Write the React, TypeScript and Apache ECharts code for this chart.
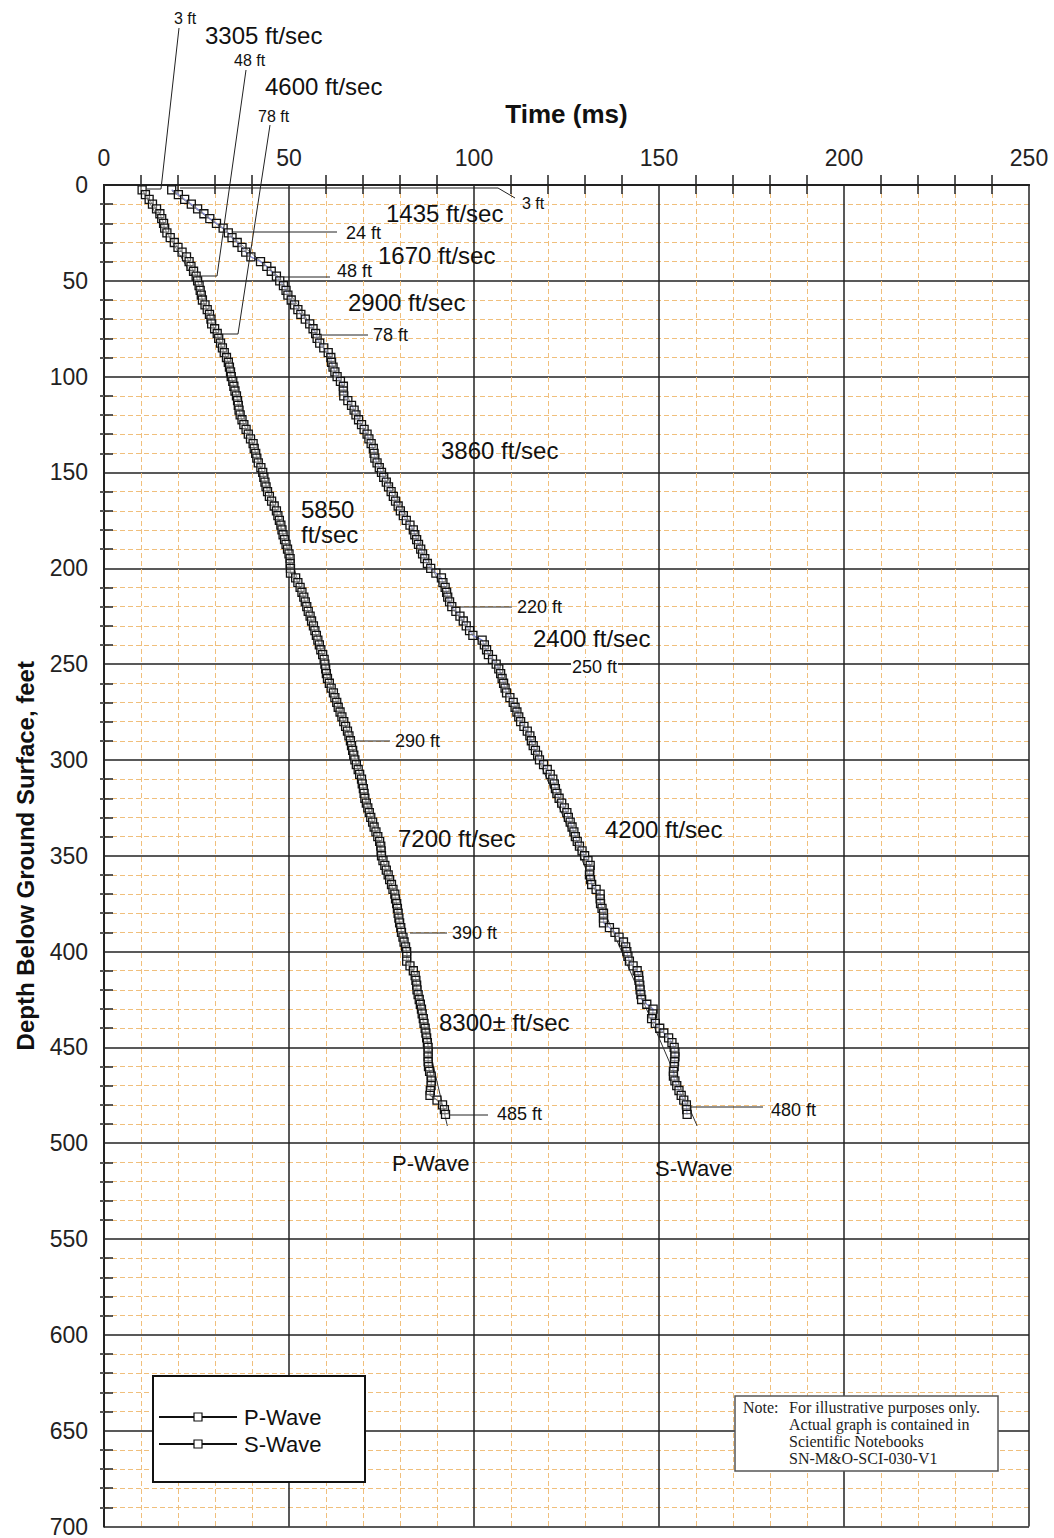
import React, { useEffect, useRef } from "react";
import * as echarts from "echarts";

// Depth below ground surface (ft) of each measurement
const depths = [
  2.5, 5, 7.5, 10, 12.5, 15, 17.5, 20, 22.5, 25, 27.5, 30, 32.5, 35, 37.5, 40, 42.5, 45, 47.5, 50,
  52.5, 55, 57.5, 60, 62.5, 65, 67.5, 70, 72.5, 75, 77.5, 80, 82.5, 85, 87.5, 90, 92.5, 95, 97.5, 100,
  102.5, 105, 107.5, 110, 112.5, 115, 117.5, 120, 122.5, 125, 127.5, 130, 132.5, 135, 137.5, 140, 142.5, 145, 147.5, 150,
  152.5, 155, 157.5, 160, 162.5, 165, 167.5, 170, 172.5, 175, 177.5, 180, 182.5, 185, 187.5, 190, 192.5, 195, 197.5, 200,
  202.5, 205, 207.5, 210, 212.5, 215, 217.5, 220, 222.5, 225, 227.5, 230, 232.5, 235, 237.5, 240, 242.5, 245, 247.5, 250,
  252.5, 255, 257.5, 260, 262.5, 265, 267.5, 270, 272.5, 275, 277.5, 280, 282.5, 285, 287.5, 290, 292.5, 295, 297.5, 300,
  302.5, 305, 307.5, 310, 312.5, 315, 317.5, 320, 322.5, 325, 327.5, 330, 332.5, 335, 337.5, 340, 342.5, 345, 347.5, 350,
  352.5, 355, 357.5, 360, 362.5, 365, 367.5, 370, 372.5, 375, 377.5, 380, 382.5, 385, 387.5, 390, 392.5, 395, 397.5, 400,
  402.5, 405, 407.5, 410, 412.5, 415, 417.5, 420, 422.5, 425, 427.5, 430, 432.5, 435, 437.5, 440, 442.5, 445, 447.5, 450,
  452.5, 455, 457.5, 460, 462.5, 465, 467.5, 470, 472.5, 475, 477.5, 480, 482.5, 485,
];

// P-wave travel time (ms)
const pTimes = [
  10.3, 11.2, 12.2, 13.1, 14.2, 15.1, 15.6, 16.1, 16.4, 17.0, 17.9, 19.0, 20.0, 21.1, 22.3, 23.0, 23.5, 24.2, 24.9, 25.3,
  25.7, 26.0, 26.3, 26.6, 27.3, 27.9, 28.5, 28.9, 29.1, 29.9, 30.6, 31.0, 31.5, 32.0, 32.5, 33.1, 33.6, 33.9, 34.2, 34.4,
  34.8, 35.1, 35.4, 35.8, 36.1, 36.3, 36.5, 36.8, 37.3, 37.8, 38.4, 39.0, 39.6, 40.3, 40.6, 41.0, 41.3, 41.7, 42.4, 42.9,
  43.2, 43.5, 43.8, 44.2, 44.7, 45.3, 46.0, 46.6, 47.0, 47.4, 47.8, 48.1, 48.4, 48.8, 49.2, 49.6, 50.0, 50.3, 50.3, 50.4,
  50.4, 51.8, 52.4, 53.0, 53.5, 54.0, 54.4, 54.8, 55.2, 55.7, 56.1, 56.6, 57.0, 57.4, 57.8, 58.2, 58.6, 59.1, 59.5, 59.7,
  59.9, 60.1, 60.4, 60.9, 61.4, 62.0, 62.4, 62.9, 63.3, 63.8, 64.3, 64.8, 65.3, 65.8, 66.2, 66.6, 66.9, 67.2, 67.5, 67.8,
  68.2, 68.7, 69.1, 69.6, 69.8, 70.1, 70.3, 70.5, 70.9, 71.3, 71.7, 72.1, 72.6, 73.0, 73.5, 74.0, 74.5, 74.8, 74.9, 75.0,
  75.4, 75.9, 76.3, 76.8, 77.2, 77.7, 78.1, 78.6, 78.8, 79.1, 79.3, 79.5, 79.7, 79.9, 80.2, 80.4, 80.8, 81.1, 81.5, 81.8,
  81.8, 81.8, 82.7, 83.6, 84.1, 84.3, 84.5, 84.6, 84.9, 85.2, 85.5, 85.8, 86.0, 86.3, 86.5, 86.8, 87.0, 87.2, 87.4, 87.6,
  87.6, 87.6, 87.6, 87.7, 88.0, 88.4, 88.5, 88.4, 88.2, 88.1, 90.0, 91.5, 92.0, 92.3,
];

// S-wave travel time (ms)
const sTimes = [
  18.3, 20.1, 21.8, 23.6, 25.3, 27.0, 28.6, 30.4, 32.2, 33.6, 34.6, 36.0, 37.3, 38.3, 39.7, 42.3, 44.0, 45.2, 46.6, 47.5,
  48.5, 49.2, 49.7, 50.6, 51.5, 52.4, 53.2, 54.4, 55.6, 56.5, 57.2, 57.6, 58.3, 59.4, 60.6, 61.3, 61.5, 61.9, 62.4, 63.0,
  63.9, 64.7, 64.7, 64.8, 65.9, 66.9, 67.6, 68.1, 68.8, 69.6, 70.3, 71.1, 71.6, 72.2, 72.8, 73.0, 73.2, 73.8, 74.4, 75.0,
  75.6, 76.3, 76.9, 77.6, 78.2, 78.8, 79.5, 80.1, 80.9, 81.7, 82.7, 83.6, 84.0, 84.5, 85.0, 85.6, 86.1, 86.7, 87.4, 88.3,
  89.7, 91.2, 91.6, 92.2, 92.6, 92.9, 93.4, 94.0, 95.1, 96.2, 97.1, 97.9, 98.8, 99.7, 102.2, 102.8, 103.4, 103.9, 105.0, 106.0,
  106.7, 107.2, 107.6, 108.0, 108.4, 108.8, 109.7, 110.6, 111.1, 111.6, 112.1, 112.6, 113.5, 114.4, 115.1, 115.5, 116.0, 116.6, 117.2, 117.7,
  118.8, 119.8, 120.6, 121.3, 121.7, 122.0, 122.4, 123.0, 123.7, 124.4, 125.1, 125.5, 126.0, 126.5, 127.0, 127.4, 127.9, 128.5, 129.2, 129.9,
  130.8, 131.4, 131.3, 131.2, 131.5, 131.8, 133.0, 134.1, 134.1, 134.2, 134.6, 135.0, 135.0, 135.0, 136.6, 138.1, 139.2, 140.4, 141.0, 141.3,
  141.6, 142.0, 143.0, 144.1, 144.5, 144.6, 144.8, 144.9, 145.1, 145.3, 146.7, 148.4, 148.3, 148.0, 149.0, 150.2, 151.3, 152.6, 153.5, 154.1,
  154.3, 154.3, 154.2, 154.1, 153.9, 153.9, 154.3, 154.8, 155.4, 156.0, 156.7, 157.4, 157.5, 157.6,
];

// Interval-velocity fit lines (break depths ft / times ms)
const pFitDepths = [3, 48, 78, 290, 390, 491];
const pFitTimes = [10.4, 24.0, 30.5, 66.7, 80.6, 92.8];
const sFitDepths = [3, 24, 48, 78, 220, 250, 491];
const sFitTimes = [18.3, 32.9, 47.3, 57.6, 93.8, 106.3, 160.3];

const seriesNames = ["P-Wave", "S-Wave"];

// Annotation texts
const labels = [
  { t: "3 ft", x: 174, y: 18, s: 16 },
  { t: "3305 ft/sec", x: 205, y: 35, s: 24 },
  { t: "48 ft", x: 234, y: 60, s: 16 },
  { t: "4600 ft/sec", x: 265, y: 86, s: 24 },
  { t: "78 ft", x: 258, y: 116, s: 16 },
  { t: "3 ft", x: 522, y: 203, s: 16 },
  { t: "1435 ft/sec", x: 386, y: 213, s: 24 },
  { t: "24 ft", x: 346, y: 233, s: 18 },
  { t: "1670 ft/sec", x: 378, y: 255, s: 24 },
  { t: "48 ft", x: 337, y: 271, s: 18 },
  { t: "2900 ft/sec", x: 348, y: 302, s: 24 },
  { t: "78 ft", x: 373, y: 335, s: 18 },
  { t: "3860 ft/sec", x: 441, y: 450, s: 24 },
  { t: "5850", x: 301, y: 509, s: 24 },
  { t: "ft/sec", x: 301, y: 534, s: 24 },
  { t: "220 ft", x: 517, y: 607, s: 18 },
  { t: "2400 ft/sec", x: 533, y: 638, s: 24 },
  { t: "250 ft", x: 571, y: 667, s: 18, bg: true },
  { t: "290 ft", x: 395, y: 741, s: 18 },
  { t: "7200 ft/sec", x: 398, y: 838, s: 24 },
  { t: "4200 ft/sec", x: 605, y: 829, s: 24 },
  { t: "390 ft", x: 452, y: 933, s: 18 },
  { t: "8300\u00b1 ft/sec", x: 439, y: 1022, s: 24 },
  { t: "485 ft", x: 497, y: 1114, s: 18 },
  { t: "480 ft", x: 771, y: 1110, s: 18 },
  { t: "P-Wave", x: 392, y: 1163, s: 22 },
  { t: "S-Wave", x: 655, y: 1168, s: 22 },
];

const leaders = [
  [[179, 28], [161, 189], [147, 189]],
  [[246, 70], [217, 276], [197, 276]],
  [[270, 125], [238, 334], [218, 334]],
  [[180, 188], [498, 188], [515, 198]],
  [[232, 232], [337, 232]],
  [[284, 277], [330, 277]],
  [[322, 335], [368, 335]],
  [[452, 607], [512, 607]],
  [[497, 664], [640, 664]],
  [[356, 741], [390, 741]],
  [[410, 933], [447, 933]],
  [[449, 1115], [488, 1115]],
  [[690, 1107], [763, 1107]],
];

const noteLines = [
  { t: "Note:", x: 743, y: 1407 },
  { t: "For illustrative purposes only.", x: 789, y: 1407 },
  { t: "Actual graph is contained in", x: 789, y: 1424 },
  { t: "Scientific Notebooks", x: 789, y: 1441 },
  { t: "SN-M&O-SCI-030-V1", x: 789, y: 1458 },
];

const SANS = "'Liberation Sans', Arial, sans-serif";
const NARROW = "'Liberation Sans Narrow', 'Arial Narrow', 'Liberation Sans', sans-serif";
const MINOR = "#f0bf7c";

export default function App() {
  const ref = useRef<HTMLDivElement>(null);

  useEffect(() => {
    if (!ref.current) return;
    const chart = echarts.init(ref.current, undefined, { renderer: "svg" });

    const pData = depths.map((d, i) => [pTimes[i], d]);
    const sData = depths.map((d, i) => [sTimes[i], d]);
    const pFit = pFitDepths.map((d, i) => [pFitTimes[i], d]);
    const sFit = sFitDepths.map((d, i) => [sFitTimes[i], d]);

    const xBase = {
      type: "value" as const,
      min: 0,
      max: 250,
      interval: 50,
      gridIndex: 0,
    };
    const yBase = {
      type: "value" as const,
      min: 0,
      max: 700,
      interval: 50,
      inverse: true,
      gridIndex: 0,
    };

    const graphics: any[] = [];
    leaders.forEach((pts) =>
      graphics.push({
        type: "polyline",
        shape: { points: pts },
        style: { stroke: "#222", lineWidth: 1, fill: null },
        z: 5,
        silent: true,
      })
    );
    labels.forEach((l: any) =>
      graphics.push({
        type: "text",
        x: l.x,
        y: l.y,
        style: {
          text: l.t,
          fontSize: l.s,
          fontFamily: SANS,
          fill: "#111",
          verticalAlign: "middle",
          align: "left",
          backgroundColor: l.bg ? "#fff" : undefined,
          padding: l.bg ? [0, 1] : undefined,
        },
        z: 6,
        silent: true,
      })
    );
    // legend box
    graphics.push({
      type: "rect",
      shape: { x: 153, y: 1376, width: 212, height: 106 },
      style: { fill: "#fff", stroke: "#111", lineWidth: 2 },
      z: 3,
      silent: true,
    });
    // note box
    graphics.push({
      type: "rect",
      shape: { x: 735, y: 1396, width: 263, height: 75 },
      style: { fill: "#fff", stroke: "#555", lineWidth: 1.5 },
      z: 3,
      silent: true,
    });
    noteLines.forEach((l) =>
      graphics.push({
        type: "text",
        x: l.x,
        y: l.y,
        style: {
          text: l.t,
          fontSize: 16,
          fontFamily: "'Liberation Serif', 'Times New Roman', serif",
          fill: "#222",
          verticalAlign: "middle",
          align: "left",
        },
        z: 6,
        silent: true,
      })
    );

    chart.setOption({
      animation: false,
      backgroundColor: "#fff",
      grid: { left: 104, top: 185, width: 925, height: 1343, show: false },
      legend: {
        left: 158,
        top: 1406,
        orient: "vertical",
        padding: 0,
        itemWidth: 78,
        itemHeight: 10,
        itemGap: 5,
        z: 10,
        textStyle: { fontSize: 22, fontFamily: SANS, color: "#111", padding: [0, 0, 0, 2] },
        data: [
          { name: seriesNames[0], itemStyle: { color: "#fff", borderColor: "#111", borderWidth: 1.2 }, lineStyle: { color: "#111", width: 2 } },
          { name: seriesNames[1], itemStyle: { color: "#fff", borderColor: "#111", borderWidth: 1.2 }, lineStyle: { color: "#111", width: 2 } },
        ],
      },
      xAxis: [
        {
          ...xBase,
          position: "top",
          name: "Time (ms)",
          nameLocation: "middle",
          nameGap: 58,
          nameTextStyle: { fontSize: 26, fontWeight: "bold", fontFamily: SANS, color: "#111" },
          axisLine: { show: true, lineStyle: { color: "#222", width: 2 } },
          axisTick: { show: false },
          minorTick: { show: true, splitNumber: 5, length: 10, lineStyle: { color: "#222", width: 1.5 } },
          axisLabel: { fontSize: 23, fontFamily: NARROW, color: "#222", margin: 16 },
          splitLine: { show: true, lineStyle: { color: "#222", width: 1.5 } },
          minorSplitLine: { show: true, lineStyle: { color: MINOR, width: 1, type: [5, 3] } },
        },
        {
          ...xBase,
          position: "bottom",
          axisLine: { show: true, lineStyle: { color: "#222", width: 2 } },
          axisTick: { show: false },
          minorTick: { show: true, splitNumber: 5, length: 9, lineStyle: { color: "#222", width: 1.5 } },
          axisLabel: { show: false },
          splitLine: { show: false },
        },
      ],
      yAxis: [
        {
          ...yBase,
          position: "left",
          name: "Depth Below Ground Surface, feet",
          nameLocation: "middle",
          nameGap: 67,
          nameRotate: 90,
          nameTextStyle: { fontSize: 24, fontWeight: "bold", fontFamily: SANS, color: "#111" },
          axisLine: { show: true, lineStyle: { color: "#222", width: 2 } },
          axisTick: { show: false },
          minorTick: { show: true, splitNumber: 5, length: 4, lineStyle: { color: "#555", width: 2 } },
          axisLabel: { fontSize: 23, fontFamily: NARROW, color: "#222", margin: 16 },
          splitLine: { show: true, lineStyle: { color: "#222", width: 1.5 } },
          minorSplitLine: { show: true, lineStyle: { color: MINOR, width: 1, type: [5, 3] } },
        },
        {
          ...yBase,
          position: "right",
          axisLine: { show: true, lineStyle: { color: "#222", width: 2 } },
          axisTick: { show: false },
          minorTick: { show: true, splitNumber: 5, length: 9, lineStyle: { color: "#222", width: 1.5 } },
          axisLabel: { show: false },
          splitLine: { show: false },
        },
      ],
      series: [
        {
          name: "P fit",
          type: "line",
          data: pFit,
          xAxisIndex: 0,
          yAxisIndex: 0,
          symbol: "none",
          lineStyle: { color: "#333", width: 1 },
          silent: true,
          z: 2,
        },
        {
          name: "S fit",
          type: "line",
          data: sFit,
          xAxisIndex: 0,
          yAxisIndex: 0,
          symbol: "none",
          lineStyle: { color: "#333", width: 1 },
          silent: true,
          z: 2,
        },
        {
          name: seriesNames[0],
          type: "line",
          data: pData,
          xAxisIndex: 0,
          yAxisIndex: 0,
          symbol: "rect",
          symbolSize: 8,
          showAllSymbol: true,
          lineStyle: { color: "#111", width: 1.2 },
          itemStyle: { color: "rgba(255,255,255,0.4)", borderColor: "#111", borderWidth: 1.3 },
          emphasis: { disabled: true },
          silent: true,
          z: 3,
        },
        {
          name: seriesNames[1],
          type: "line",
          data: sData,
          xAxisIndex: 0,
          yAxisIndex: 0,
          symbol: "rect",
          symbolSize: 8,
          showAllSymbol: true,
          lineStyle: { color: "#2430b0", width: 1.2 },
          itemStyle: { color: "rgba(255,255,255,0.4)", borderColor: "#111", borderWidth: 1.3 },
          emphasis: { disabled: true },
          silent: true,
          z: 3,
        },
      ],
      graphic: { elements: graphics },
    });

    return () => chart.dispose();
  }, []);

  return (
    <div
      ref={ref}
      style={{ position: "fixed", left: 0, top: 0, width: 1054, height: 1538, background: "#fff" }}
    />
  );
}
